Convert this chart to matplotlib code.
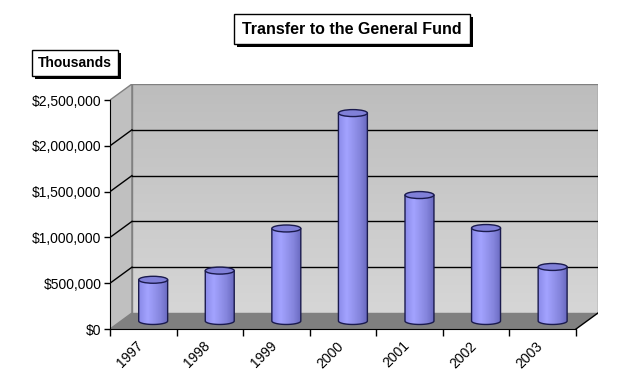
import numpy as np
import matplotlib
matplotlib.use('Agg')
import matplotlib.pyplot as plt
import matplotlib.transforms as mtransforms
from matplotlib.patches import Polygon, Ellipse, Rectangle
from matplotlib.colors import LinearSegmentedColormap
from matplotlib.ticker import FuncFormatter

# ---------- Data ----------
years = ['1997', '1998', '1999', '2000', '2001', '2002', '2003']
transfer = [450000, 550000, 1010000, 2270000, 1375000, 1015000, 590000]
y_ticks = [0, 500000, 1000000, 1500000, 2000000, 2500000]

# ---------- Style ----------
plt.rcParams['font.family'] = ['Liberation Sans', 'DejaVu Sans']
YMAX = 2500000
NCAT = len(years)
DX, DY = 0.33, 175000          # depth offset of the back wall
BAR_W = 0.435
ELL_H = 76000
EDGE = '#1a1a4d'
bar_cmap = LinearSegmentedColormap.from_list(
    'cyl', [(0, '#8a8ae8'), (0.3, '#a3a3ff'), (0.75, '#8585dd'), (1, '#6a6ac0')])
wall_cmap = LinearSegmentedColormap.from_list('wall', ['#d6d6d6', '#bdbdbd'])

fig = plt.figure(figsize=(6.36, 3.82), dpi=100)
ax = fig.add_axes([110 / 636, 53 / 382, 488 / 636, 245 / 382])
ax.set_xlim(0, NCAT + DX)
ax.set_ylim(0, YMAX + DY)

# ---------- walls and floor ----------
back = Polygon([(DX, DY), (NCAT + DX, DY), (NCAT + DX, YMAX + DY), (DX, YMAX + DY)],
               closed=True, facecolor='none', edgecolor='#808080', lw=1, zorder=2)
ax.add_patch(back)
im = ax.imshow(np.linspace(0, 1, 100).reshape(-1, 1), cmap=wall_cmap, origin='lower',
               extent=[DX, NCAT + DX, DY, YMAX + DY], aspect='auto', zorder=1)
im.set_clip_path(back)

ax.add_patch(Polygon([(0, 0), (DX, DY), (DX, YMAX + DY), (0, YMAX)], closed=True,
                     facecolor='#c0c0c0', edgecolor='#808080', lw=1, zorder=1))
ax.add_patch(Polygon([(0, 0), (NCAT, 0), (NCAT + DX, DY), (DX, DY)], closed=True,
                     facecolor='#808080', edgecolor='none', zorder=1))
ax.plot([NCAT, NCAT + DX], [0, DY], color='black', lw=1, zorder=3)

for t in y_ticks[1:-1]:
    ax.plot([DX, NCAT + DX], [t + DY, t + DY], color='black', lw=1, zorder=2)
    ax.plot([0, DX], [t, t + DY], color='black', lw=1, zorder=2)

# ---------- cylinders ----------
theta = np.linspace(0, -np.pi, 40)
for i, v in enumerate(transfer):
    cx = i + 0.5 + DX * 0.45
    base = DY / 2
    top = v + base
    left, right = cx - BAR_W / 2, cx + BAR_W / 2
    pts = [(left, top), (right, top)]
    pts += [(cx + BAR_W / 2 * np.cos(a), base + ELL_H / 2 * np.sin(a)) for a in theta]
    body = Polygon(pts, closed=True, facecolor='none', edgecolor=EDGE, lw=1, zorder=5)
    ax.add_patch(body)
    g = ax.imshow(np.linspace(0, 1, 100).reshape(1, -1), cmap=bar_cmap,
                  extent=[left, right, base - ELL_H, top], aspect='auto', zorder=4)
    g.set_clip_path(body)
    ax.add_patch(Ellipse((cx, top), BAR_W, ELL_H, facecolor='#8080d8',
                         edgecolor=EDGE, lw=1, zorder=6))

ax.set_xlim(0, NCAT + DX)
ax.set_ylim(0, YMAX + DY)

# ---------- axes ----------
for s in ['top', 'right']:
    ax.spines[s].set_visible(False)
ax.spines['left'].set_bounds(0, YMAX)
ax.spines['bottom'].set_bounds(0, NCAT)
ax.spines['left'].set_zorder(7)
ax.spines['bottom'].set_zorder(7)

ax.set_yticks(y_ticks)
ax.yaxis.set_major_formatter(FuncFormatter(lambda v, p: f"${v:,.0f}"))
ax.tick_params(axis='y', length=4, width=1, labelsize=10, pad=2)

ax.set_xticks(range(NCAT + 1))
ax.set_xticklabels([])
ax.set_xticks([i + 0.5 for i in range(NCAT)], minor=True)
ax.set_xticklabels(years, minor=True, rotation=45, ha='right', va='top',
                   rotation_mode='anchor', fontsize=10)
ax.tick_params(axis='x', which='major', length=5, width=1)
ax.tick_params(axis='x', which='minor', length=0, pad=7)
shift = mtransforms.ScaledTranslation(-5 / 72, 0, fig.dpi_scale_trans)
for lbl in ax.get_xticklabels(minor=True):
    lbl.set_transform(lbl.get_transform() + shift)

# ---------- boxed labels with shadow ----------
boxes = []
def boxed(x, y, s, pad, size):
    t = fig.text(x, y, s, ha='center', va='center', fontsize=size, fontweight='bold',
                 zorder=3,
                 bbox=dict(boxstyle=f'square,pad={pad}', fc='white', ec='black', lw=1))
    boxes.append(t)

boxed(352 / 636, 1 - 29 / 382, 'Transfer to the General Fund', 0.5, 11.5)
boxed(75 / 636, 1 - 63 / 382, 'Thousands', 0.4, 10)

fig.canvas.draw()
for t in boxes:
    bb = t.get_bbox_patch().get_window_extent()
    fig.add_artist(Rectangle((bb.x0 + 3, bb.y0 - 3), bb.width, bb.height,
                             transform=None, facecolor='black', edgecolor='none',
                             zorder=2))

fig.savefig('out.png', dpi=100)
